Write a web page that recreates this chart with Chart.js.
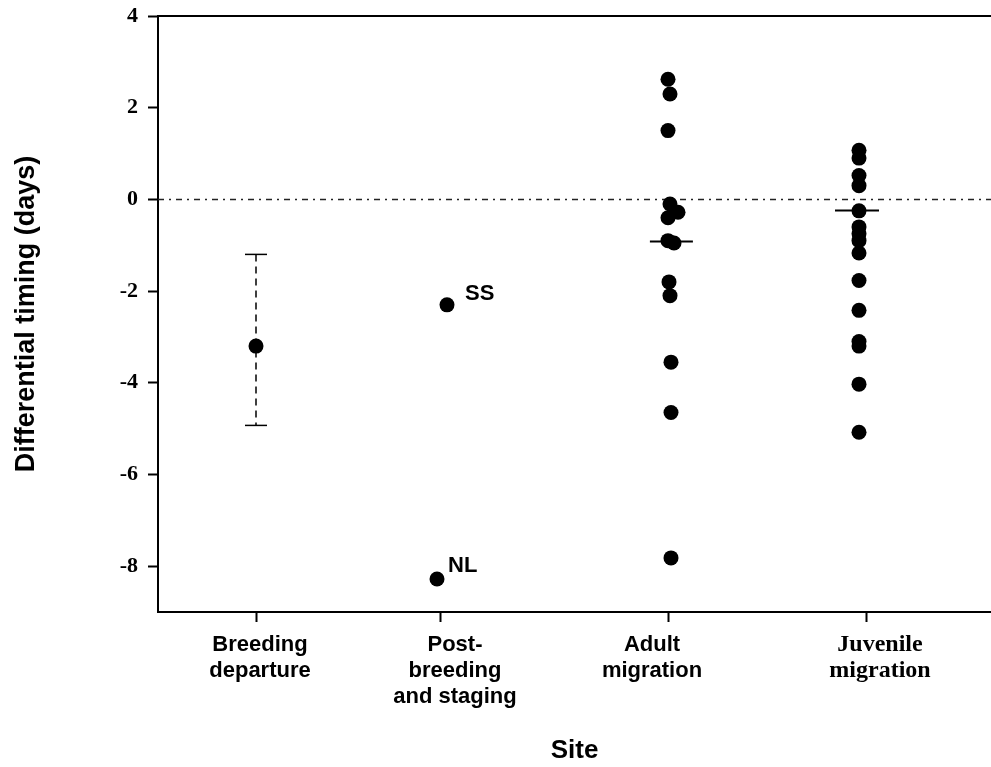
<!DOCTYPE html>
<html>
<head>
<meta charset="utf-8">
<script src="https://cdn.jsdelivr.net/npm/chart.js@4.4.1/dist/chart.umd.min.js"></script>
<style>
  body { margin: 0; background: #fff; }
  #wrap { width: 991px; height: 767px; }
</style>
</head>
<body>
<div id="wrap"><canvas id="chart" width="991" height="767"></canvas></div>
<script>
// Sites (x axis categories) and where they sit on the axis
const siteLabels = [
    ['Breeding', 'departure'],
    ['Post-', 'breeding', 'and staging'],
    ['Adult', 'migration'],
    ['Juvenile', 'migration']
];
const siteTickX = [1.0, 1.92, 3.06, 4.05];
const siteLabelX = [1.02, 1.995, 2.98, 4.12];
const xMin = 0.51;
const xMax = 4.675;

// y axis ticks
const yTickValues = [-8, -6, -4, -2, 0, 2, 4];
const yMin = -9;
const yMax = 4;

// Breeding departure: mean with range
const breedingX = 1.0;
const breedingMean = -3.2;
const breedingUpper = -1.2;
const breedingLower = -4.93;

// Post-breeding and staging: two sites
const postX = [1.955, 1.905];
const postY = [-2.3, -8.28];
const postNames = ['SS', 'NL'];

// Adult migration
const adultX = [3.06, 3.07, 3.06, 3.07, 3.11, 3.06, 3.06, 3.09, 3.065, 3.07, 3.075, 3.075, 3.075];
const adultY = [2.62, 2.3, 1.5, -0.1, -0.28, -0.4, -0.9, -0.95, -1.8, -2.1, -3.55, -4.65, -7.82];
const adultMedianX = 3.077;
const adultMedian = -0.92;

// Juvenile migration
const juvX = [4.015, 4.015, 4.015, 4.015, 4.015, 4.015, 4.015, 4.015, 4.015, 4.015, 4.015, 4.015, 4.015, 4.015, 4.015];
const juvY = [1.07, 0.9, 0.52, 0.3, -0.25, -0.6, -0.75, -0.9, -1.17, -1.77, -2.42, -3.1, -3.2, -4.03, -5.08];
const juvMedianX = 4.005;
const juvMedian = -0.24;

const toPoints = (xs, ys) => xs.map((x, i) => ({ x: x, y: ys[i] }));

// Texte à côté des points (SS, NL)
const labelOffsets = { SS: [18, -11], NL: [11, -13] };
const pointLabelPlugin = {
    id: 'pointLabels',
    afterDatasetsDraw(chart) {
        const ctx = chart.ctx;
        chart.data.datasets.forEach((ds, di) => {
            if (!ds.pointNames) return;
            const meta = chart.getDatasetMeta(di);
            ctx.save();
            ctx.font = 'bold 22px "Liberation Sans", Arial, sans-serif';
            ctx.fillStyle = '#000';
            ctx.textBaseline = 'middle';
            ctx.textAlign = 'left';
            meta.data.forEach((pt, i) => {
                const name = ds.pointNames[i];
                const off = labelOffsets[name] || [12, -12];
                ctx.fillText(name, pt.x + off[0], pt.y + off[1]);
            });
            ctx.restore();
        });
    }
};

// Étiquettes des sites sous l'axe + bordure du haut
const frameAndSitesPlugin = {
    id: 'frameAndSites',
    afterDraw(chart) {
        const ctx = chart.ctx;
        const area = chart.chartArea;
        const xs = chart.scales.x;
        ctx.save();
        ctx.strokeStyle = '#000';
        ctx.lineWidth = 2;
        ctx.beginPath();
        ctx.moveTo(area.left, area.top);
        ctx.lineTo(area.right, area.top);
        ctx.stroke();

        ctx.fillStyle = '#000';
        ctx.textAlign = 'center';
        ctx.textBaseline = 'alphabetic';
        siteLabels.forEach((lines, i) => {
            ctx.font = i === 3
                ? 'bold 24px "Liberation Serif", "Times New Roman", serif'
                : 'bold 22px "Liberation Sans", Arial, sans-serif';
            const px = xs.getPixelForValue(siteLabelX[i]);
            lines.forEach((line, j) => {
                ctx.fillText(line, px, 651 + j * 26);
            });
        });
        ctx.restore();
    }
};

const ctx = document.getElementById('chart').getContext('2d');
new Chart(ctx, {
    type: 'scatter',
    data: {
        datasets: [
            {
                label: 'Adult median',
                data: [{ x: adultMedianX, y: adultMedian }],
                pointStyle: 'line',
                pointRadius: 21.5,
                pointBorderWidth: 2,
                borderColor: '#000'
            },
            {
                label: 'Juvenile median',
                data: [{ x: juvMedianX, y: juvMedian }],
                pointStyle: 'line',
                pointRadius: 22,
                pointBorderWidth: 2,
                borderColor: '#000'
            },
            {
                label: 'Breeding departure',
                data: [{ x: breedingX, y: breedingMean }],
                pointRadius: 7.5,
                pointBorderWidth: 0,
                backgroundColor: '#000'
            },
            {
                label: 'Breeding range caps',
                data: [{ x: breedingX, y: breedingUpper }, { x: breedingX, y: breedingLower }],
                pointStyle: 'line',
                pointRadius: 11,
                pointBorderWidth: 1.5,
                borderColor: '#000'
            },
            {
                label: 'Breeding range',
                type: 'line',
                data: [{ x: breedingX, y: breedingUpper }, { x: breedingX, y: breedingLower }],
                showLine: true,
                borderColor: '#000',
                borderWidth: 1.5,
                borderDash: [7, 5],
                pointRadius: 0
            },
            {
                label: 'Post-breeding',
                data: toPoints(postX, postY),
                pointNames: postNames,
                pointRadius: 7.5,
                pointBorderWidth: 0,
                backgroundColor: '#000'
            },
            {
                label: 'Adult migration',
                data: toPoints(adultX, adultY),
                pointRadius: 7.5,
                pointBorderWidth: 0,
                backgroundColor: '#000'
            },
            {
                label: 'Juvenile migration',
                data: toPoints(juvX, juvY),
                pointRadius: 7.5,
                pointBorderWidth: 0,
                backgroundColor: '#000'
            },
            {
                label: 'Zero',
                type: 'line',
                data: [{ x: xMin, y: 0 }, { x: xMax, y: 0 }],
                showLine: true,
                borderColor: '#222',
                borderWidth: 1.5,
                borderDash: [6, 5, 2, 5],
                pointRadius: 0
            }
        ]
    },
    options: {
        responsive: false,
        animation: false,
        layout: { autoPadding: false, padding: { top: 16, right: 0, left: 0, bottom: 0 } },
        plugins: {
            legend: { display: false },
            tooltip: { enabled: false }
        },
        scales: {
            x: {
                type: 'linear',
                min: xMin,
                max: xMax,
                afterBuildTicks: (scale) => {
                    scale.ticks = siteTickX.map(v => ({ value: v }));
                },
                afterFit: (scale) => { scale.height = 155; },
                ticks: { display: false },
                grid: {
                    drawOnChartArea: false,
                    drawTicks: true,
                    tickLength: 10,
                    tickWidth: 2,
                    tickColor: '#000'
                },
                border: { display: true, color: '#000', width: 2 },
                title: {
                    display: true,
                    text: 'Site',
                    color: '#000',
                    font: { family: '"Liberation Sans", Arial, sans-serif', size: 26, weight: 'bold' },
                    padding: { top: 0, bottom: 1 }
                }
            },
            y: {
                type: 'linear',
                min: yMin,
                max: yMax,
                afterBuildTicks: (scale) => {
                    scale.ticks = yTickValues.map(v => ({ value: v }));
                },
                afterFit: (scale) => {
                    scale.width = 158;
                    scale.paddingTop = 0;
                    scale.paddingBottom = 0;
                },
                ticks: {
                    color: '#000',
                    padding: 10,
                    font: { family: '"Liberation Serif", "Times New Roman", serif', size: 22, weight: 'bold' }
                },
                grid: {
                    drawOnChartArea: false,
                    drawTicks: true,
                    tickLength: 10,
                    tickWidth: 2,
                    tickColor: '#000'
                },
                border: { display: true, color: '#000', width: 2 },
                title: {
                    display: true,
                    text: 'Differential timing (days)',
                    color: '#000',
                    font: { family: '"Liberation Sans", Arial, sans-serif', size: 27, weight: 'bold' },
                    padding: { top: 10, bottom: 0 }
                }
            }
        }
    },
    plugins: [pointLabelPlugin, frameAndSitesPlugin]
});
</script>
</body>
</html>
